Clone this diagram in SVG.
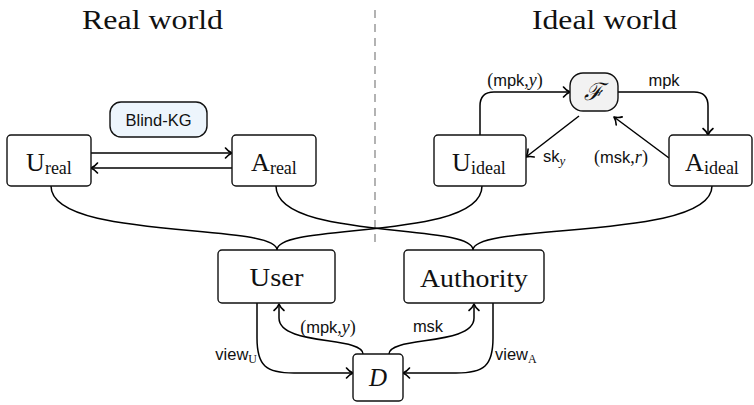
<svg xmlns="http://www.w3.org/2000/svg" width="754" height="405" viewBox="0 0 754 405">
  <defs>
    <marker id="arr" viewBox="-8 -7 10 14" refX="0" refY="0" markerWidth="10" markerHeight="14" orient="auto" markerUnits="userSpaceOnUse">
      <path d="M-6.5,-5 C-4.2,-2 -1.5,-0.6 0,0 C-1.5,0.6 -4.2,2 -6.5,5" fill="none" stroke="#000" stroke-width="1.6" stroke-linecap="round" stroke-linejoin="round"/>
    </marker>
    <style>
      .box { fill: #fff; stroke: #111; stroke-width: 1.4; }
      .serif { font-family: "Liberation Serif", "DejaVu Serif", serif; fill: #111; }
      .sans { font-family: "Liberation Sans", "DejaVu Sans", sans-serif; fill: #111; font-size: 16.5px; }
      .m { font-family: "Liberation Serif", "DejaVu Serif", serif; font-size: 18px; }
      .it { font-family: "Liberation Serif", "DejaVu Serif", serif; font-style: italic; font-size: 18px; }
      .subit { font-family: "Liberation Serif", "DejaVu Serif", serif; font-style: italic; font-size: 13px; }
      .node { font-size: 26px; }
      .sub { font-size: 18px; }
      .edge { fill: none; stroke: #000; stroke-width: 1.5; }
      .arrow { marker-end: url(#arr); }
    </style>
  </defs>

  <!-- titles and divider -->
  <text class="serif" x="82" y="29" font-size="28" textLength="141" lengthAdjust="spacingAndGlyphs">Real world</text>
  <text class="serif" x="532" y="29" font-size="28" textLength="145" lengthAdjust="spacingAndGlyphs">Ideal world</text>
  <line x1="375" y1="10" x2="375" y2="248" stroke="#8a8a8a" stroke-width="1.3" stroke-dasharray="8 6"/>

  <!-- connectors -->
  <g id="connectors">
    <path class="edge arrow" d="M91,153 L232,153"/>
    <path class="edge arrow" d="M232,168 L91,168"/>
    <path class="edge arrow" d="M480,135 L480,106 Q480,92 494,92 L570,92"/>
    <path class="edge arrow" d="M618,92 L694,92 Q708,92 708,106 L708,135"/>
    <path class="edge arrow" d="M579,116 L526,157"/>
    <path class="edge arrow" d="M669,158 L614,117"/>
    <path class="edge" d="M51,186 C51,241 277,222 277,250"/>
    <path class="edge" d="M482,186 C482,241 277,222 277,250"/>
    <path class="edge" d="M276,186 C276,241 473,222 473,250"/>
    <path class="edge" d="M712,186 C712,241 473,222 473,250"/>
    <path class="edge arrow" d="M257,303 L257,338 C257,366 266,373 294,373 L353,373"/>
    <path class="edge arrow" d="M363,354 C363,336 279,346 279,318 L279,304"/>
    <path class="edge arrow" d="M389,354 C389,336 474,346 474,318 L474,304"/>
    <path class="edge arrow" d="M493,303 L493,338 C493,366 484,373 456,373 L403,373"/>
  </g>

  <!-- edge labels -->
  <g id="edge-labels" class="sans">
    <text x="515" y="86" text-anchor="middle"><tspan class="m">(</tspan>mpk<tspan class="m">,</tspan><tspan class="it">y</tspan><tspan class="m">)</tspan></text>
    <text x="664" y="86" text-anchor="middle">mpk</text>
    <text x="543" y="162">sk<tspan class="subit" dy="3">y</tspan></text>
    <text x="621" y="163" text-anchor="middle"><tspan class="m">(</tspan>msk<tspan class="m">,</tspan><tspan class="it">r</tspan><tspan class="m">)</tspan></text>
    <text x="328" y="333" text-anchor="middle"><tspan class="m">(</tspan>mpk<tspan class="m">,</tspan><tspan class="it">y</tspan><tspan class="m">)</tspan></text>
    <text x="428" y="332" text-anchor="middle">msk</text>
    <text x="257" y="360" text-anchor="end">view<tspan class="serif" font-size="12" dy="3">U</tspan></text>
    <text x="495" y="360">view<tspan class="serif" font-size="12" dy="3">A</tspan></text>
  </g>

  <!-- real world -->
  <g id="blind-kg">
    <rect x="110" y="102" width="97" height="35" rx="11" fill="#edf5fc" stroke="#111" stroke-width="1.4"/>
    <text class="sans" x="158.5" y="126" text-anchor="middle" font-size="17.5">Blind-KG</text>
  </g>
  <g id="u-real">
    <rect class="box" x="7" y="135" width="84" height="51" rx="4"/>
    <text class="serif node" x="49" y="171" text-anchor="middle">U<tspan class="sub" dy="3">real</tspan></text>
  </g>
  <g id="a-real">
    <rect class="box" x="232" y="135" width="84" height="51" rx="4"/>
    <text class="serif node" x="274" y="171" text-anchor="middle">A<tspan class="sub" dy="3">real</tspan></text>
  </g>

  <!-- ideal world -->
  <g id="func">
    <rect x="570" y="73" width="48" height="38" rx="13" fill="#f2f2f2" stroke="#111" stroke-width="1.4"/>
    <text class="serif" x="594" y="100" text-anchor="middle" font-size="24" font-style="italic">ℱ</text>
  </g>
  <g id="u-ideal">
    <rect class="box" x="434" y="135" width="92" height="51" rx="4"/>
    <text class="serif node" x="479" y="171" text-anchor="middle">U<tspan class="sub" dy="3">ideal</tspan></text>
  </g>
  <g id="a-ideal">
    <rect class="box" x="669" y="135" width="83" height="51" rx="4"/>
    <text class="serif node" x="712" y="171" text-anchor="middle">A<tspan class="sub" dy="3">ideal</tspan></text>
  </g>

  <!-- combined parties and distinguisher -->
  <g id="user">
    <rect class="box" x="218" y="250" width="117" height="53" rx="4"/>
    <text class="serif" x="276.5" y="286" text-anchor="middle" font-size="25" textLength="54" lengthAdjust="spacingAndGlyphs">User</text>
  </g>
  <g id="authority">
    <rect class="box" x="404" y="250" width="140" height="53" rx="4"/>
    <text class="serif" x="474" y="287" text-anchor="middle" font-size="25" textLength="108" lengthAdjust="spacingAndGlyphs">Authority</text>
  </g>
  <g id="distinguisher">
    <rect class="box" x="353" y="354" width="50" height="47" rx="4"/>
    <text class="serif" x="378" y="386" text-anchor="middle" font-size="25" font-style="italic">D</text>
  </g>
</svg>
